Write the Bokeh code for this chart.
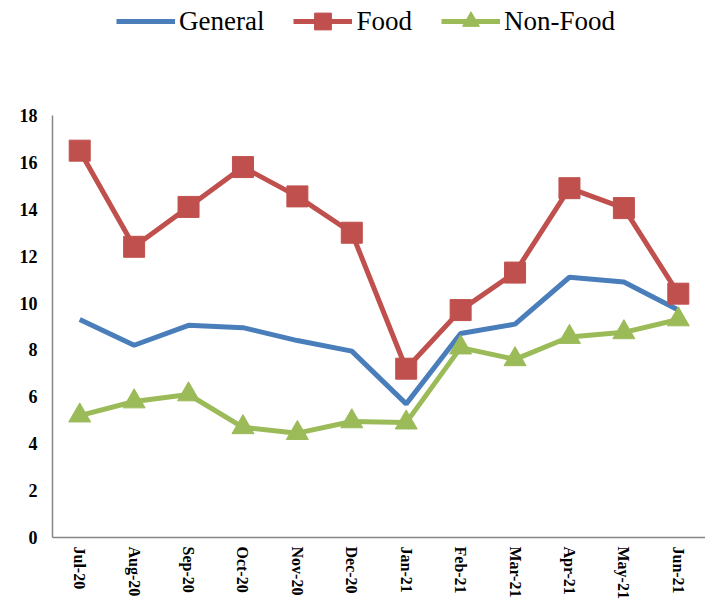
from bokeh.plotting import figure
from bokeh.layouts import column
from bokeh.models import Range1d, FactorRange, FixedTicker, Legend, LegendItem
from bokeh.embed import file_html
from bokeh.resources import INLINE

months = ["Jul-20", "Aug-20", "Sep-20", "Oct-20", "Nov-20", "Dec-20",
          "Jan-21", "Feb-21", "Mar-21", "Apr-21", "May-21", "Jun-21"]
general = [9.3, 8.2, 9.05, 8.95, 8.4, 7.95, 5.7, 8.7, 9.1, 11.1, 10.9, 9.7]
food = [16.5, 12.4, 14.1, 15.8, 14.55, 13.0, 7.2, 9.7, 11.3, 14.9, 14.05, 10.4]
non_food = [5.2, 5.8, 6.1, 4.7, 4.45, 4.95, 4.9, 8.1, 7.6, 8.55, 8.75, 9.3]
y_ticks = [0, 2, 4, 6, 8, 10, 12, 14, 16, 18]
series_names = ["General", "Food", "Non-Food"]

FONT = "Liberation Serif"
BLUE = "#4A7EBB"
RED = "#C0504D"
GREEN = "#9BBB59"


def draw_series(fig):
    g = fig.line(months, general, line_color=BLUE, line_width=5)
    f = fig.line(months, food, line_color=RED, line_width=5)
    fp = fig.scatter(months, food, marker="square", size=21, fill_color=RED, line_color=RED)
    n = fig.line(months, non_food, line_color=GREEN, line_width=5)
    npt = fig.scatter(months, non_food, marker="triangle", size=22, fill_color=GREEN, line_color=GREEN)
    return g, f, fp, n, npt


# ---- legend strip on top (series kept out of its view range) ----
lg = figure(width=705, height=105, output_backend="svg", toolbar_location=None,
            x_range=FactorRange(factors=months, range_padding=0),
            y_range=Range1d(100, 101),
            x_axis_location=None, y_axis_location=None,
            min_border_left=0, min_border_right=0, min_border_top=0, min_border_bottom=0)
lg.grid.visible = False
lg.outline_line_color = None
lg_g, lg_f, lg_fp, lg_n, lg_np = draw_series(lg)

legend = Legend(items=[
    LegendItem(label=series_names[0], renderers=[lg_g]),
    LegendItem(label=series_names[1], renderers=[lg_f, lg_fp]),
    LegendItem(label=series_names[2], renderers=[lg_n, lg_np]),
], orientation="horizontal", location=(64, 63))
legend.label_text_font = FONT
legend.label_text_font_size = "27px"
legend.label_text_color = "black"
legend.glyph_width = 59
legend.glyph_height = 42
legend.label_standoff = 4
legend.spacing = 29
legend.padding = 0
legend.margin = 0
legend.border_line_color = None
legend.background_fill_alpha = 0
lg.add_layout(legend, "center")

# ---- main chart ----
p = figure(width=705, height=496, output_backend="svg", toolbar_location=None,
           x_range=FactorRange(factors=months, range_padding=0),
           y_range=Range1d(0, 18),
           min_border_left=52, min_border_right=0, min_border_top=10,
           min_border_bottom=62)
p.outline_line_color = None
p.xgrid.visible = False
p.ygrid.visible = False
draw_series(p)

for ax in (p.xaxis[0], p.yaxis[0]):
    ax.axis_line_color = "#868686"
    ax.axis_line_width = 1.5
    ax.major_tick_line_color = None
    ax.minor_tick_line_color = None
    ax.major_tick_in = 0
    ax.major_tick_out = 0
    ax.major_label_text_font = FONT
    ax.major_label_text_font_style = "bold"
    ax.major_label_text_color = "black"

p.yaxis.ticker = FixedTicker(ticks=y_ticks)
p.yaxis.major_label_text_font_size = "18px"
p.yaxis.major_label_standoff = 15
p.xaxis.major_label_text_font_size = "16px"
p.xaxis.major_label_orientation = "vertical"
p.xaxis.major_label_standoff = 9

layout = column(lg, p, spacing=0)
open("out.html", "w").write(file_html(layout, INLINE))
